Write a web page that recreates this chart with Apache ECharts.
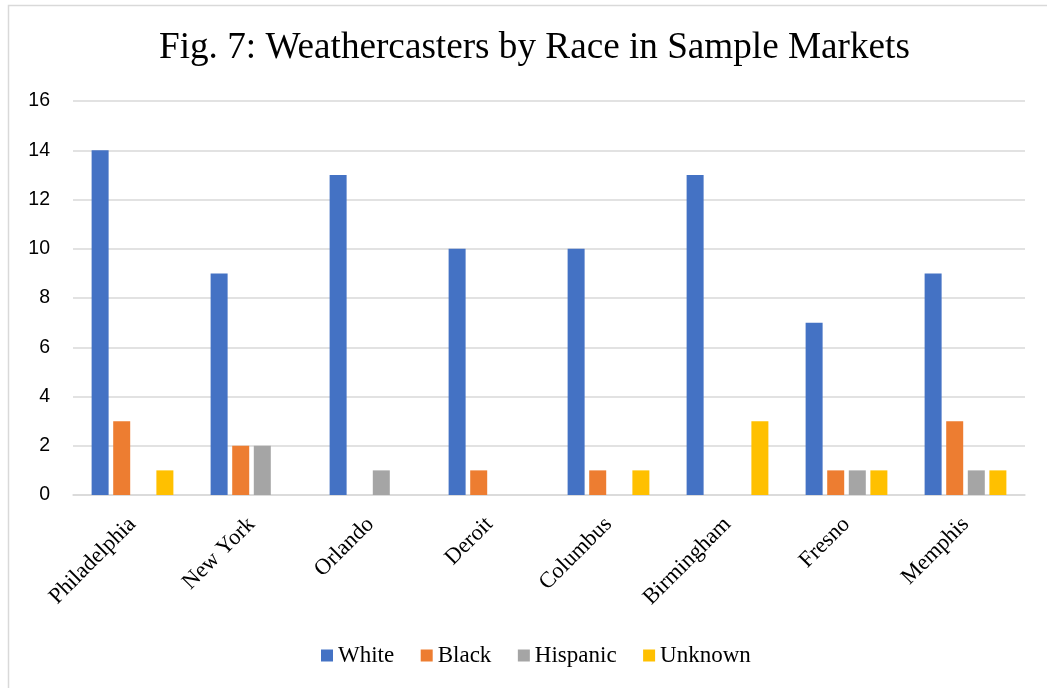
<!DOCTYPE html>
<html><head><meta charset="utf-8">
<script src="https://cdn.jsdelivr.net/npm/echarts@6/dist/echarts.min.js"></script>
<style>html,body{margin:0;padding:0;background:#fff}#c{width:1047px;height:688px}</style>
</head><body><div id="c"></div>
<script>
const categories = ['Philadelphia','New York','Orlando','Deroit','Columbus','Birmingham','Fresno','Memphis'];
const white = [14, 9, 13, 10, 10, 13, 7, 9];
const black = [3, 2, 0, 1, 1, 0, 1, 3];
const hispanic = [0, 2, 1, 0, 0, 0, 1, 1];
const unknown = [1, 0, 0, 0, 1, 3, 1, 1];
const seriesNames = ['White','Black','Hispanic','Unknown'];
const colors = ['#4472C4','#ED7D31','#A5A5A5','#FFC000'];
const yTicks = [0, 2, 4, 6, 8, 10, 12, 14, 16];

const chart = echarts.init(document.getElementById('c'), null, {renderer:'canvas'});
const serif = '"Liberation Serif", "Times New Roman", serif';
const sans = '"Liberation Sans", "Open Sans", sans-serif';
const mk = (name, data, i) => ({
  name, type:'bar', data, barWidth:17, barGap:'27%',
  itemStyle:{color:colors[i]}
});
chart.setOption({
  animation:false,
  graphic:[{type:'rect', shape:{x:8.5,y:5.5,width:1100,height:800},
    style:{fill:'none', stroke:'#D9D9D9', lineWidth:1.5}, silent:true}],
  title:{text:'Fig. 7: Weathercasters by Race in Sample Markets', left:154, top:25,
    textStyle:{fontFamily:serif, fontSize:37.2, fontWeight:'normal', color:'#000'}},
  legend:{data:seriesNames, bottom:16, left:316, itemWidth:12, itemHeight:12, itemGap:26.5,
    icon:'rect', textStyle:{fontFamily:serif, fontSize:23, color:'#000'}},
  grid:{left:73, right:22, top:101, bottom:193, containLabel:false},
  xAxis:{type:'category', data:categories,
    axisLine:{lineStyle:{color:'#D9D9D9', width:1.5}}, axisTick:{show:false},
    axisLabel:{rotate:45, interval:0, margin:26, fontFamily:serif, fontSize:22.5, color:'#000'}},
  yAxis:{type:'value', min:yTicks[0], max:yTicks[yTicks.length-1], interval:2,
    axisLine:{show:false}, axisTick:{show:false},
    splitLine:{lineStyle:{color:'#D9D9D9', width:1.5}},
    axisLabel:{margin:23, fontFamily:sans, fontSize:19.5, color:'#000'}},
  series:[mk('White',white,0), mk('Black',black,1), mk('Hispanic',hispanic,2), mk('Unknown',unknown,3)]
});
</script></body></html>
